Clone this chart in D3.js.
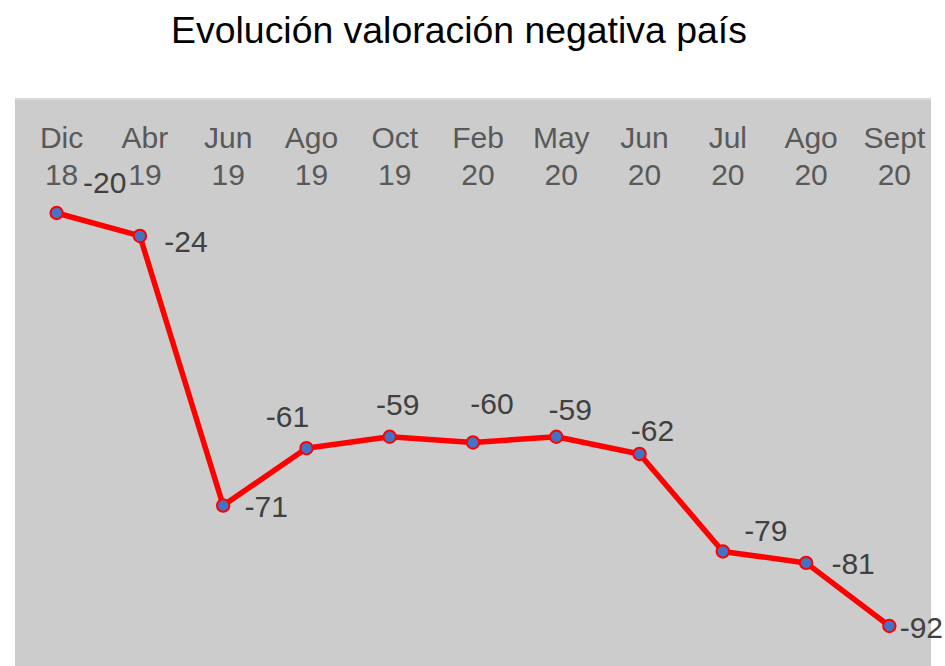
<!DOCTYPE html>
<html>
<head>
<meta charset="utf-8">
<script src="https://cdn.jsdelivr.net/npm/d3@7"></script>
<style>
  body { margin: 0; background: #ffffff; }
  text { font-family: "Liberation Sans", Arial, sans-serif; }
</style>
</head>
<body>
<script>
var months = ["Dic", "Abr", "Jun", "Ago", "Oct", "Feb", "May", "Jun", "Jul", "Ago", "Sept"];
var years = ["18", "19", "19", "19", "19", "20", "20", "20", "20", "20", "20"];
var values = [-20, -24, -71, -61, -59, -60, -59, -62, -79, -81, -92];

// manual data label placement (dx, dy from the marker), as in the original
var labelOffsets = [[48, -20], [46, 16], [43, 11], [-19, -21], [8, -22], [19, -28],
    [14, -17], [13, -13], [43, -10], [47, 11], [32, 12]];

var width = 945,
    height = 666,
    plot = { left: 15, right: 931, top: 98, bottom: 666 };

var svg = d3.select("body").append("svg")
    .attr("width", width)
    .attr("height", height);

svg.append("text")
    .attr("x", 459)
    .attr("y", 43)
    .attr("text-anchor", "middle")
    .style("font-size", "37.4px")
    .style("fill", "#000000")
    .text("Evolución valoración negativa país");

svg.append("rect")
    .attr("x", plot.left)
    .attr("y", plot.top)
    .attr("width", plot.right - plot.left)
    .attr("height", plot.bottom - plot.top)
    .attr("fill", "#cccccc");

svg.append("rect")
    .attr("x", plot.left)
    .attr("y", plot.top)
    .attr("width", plot.right - plot.left)
    .attr("height", 2)
    .attr("fill", "#d9d9d9");

var idx = d3.range(values.length);

var x = d3.scalePoint()
    .domain(idx)
    .range([plot.left, plot.right])
    .padding(0.5);

var y = d3.scaleLinear()
    .domain([0, -100])
    .range([98.3, 671.9]);

// category labels (top, two lines)
var cats = svg.selectAll(".cat")
    .data(idx)
    .enter().append("text")
    .attr("class", "cat")
    .attr("text-anchor", "middle")
    .style("font-size", "30px")
    .style("fill", "#595959");

cats.append("tspan")
    .attr("x", function (d) { return x(d) + 5; })
    .attr("y", 148)
    .text(function (d) { return months[d]; });

cats.append("tspan")
    .attr("x", function (d) { return x(d) + 5; })
    .attr("y", 185)
    .text(function (d) { return years[d]; });

var line = d3.line()
    .x(function (d) { return x(d); })
    .y(function (d) { return y(values[d]); });

svg.append("path")
    .datum(idx)
    .attr("d", line)
    .attr("fill", "none")
    .attr("stroke", "#ff0000")
    .attr("stroke-width", 5.5)
    .attr("stroke-linejoin", "round");

svg.selectAll(".dot")
    .data(idx)
    .enter().append("circle")
    .attr("class", "dot")
    .attr("cx", function (d) { return x(d); })
    .attr("cy", function (d) { return y(values[d]); })
    .attr("r", 6.2)
    .attr("fill", "#4472c4")
    .attr("stroke", "#ff0000")
    .attr("stroke-width", 2);

svg.selectAll(".lbl")
    .data(idx)
    .enter().append("text")
    .attr("class", "lbl")
    .attr("x", function (d) { return x(d) + labelOffsets[d][0]; })
    .attr("y", function (d) { return y(values[d]) + labelOffsets[d][1]; })
    .attr("text-anchor", "middle")
    .style("font-size", "30px")
    .style("fill", "#404040")
    .text(function (d) { return values[d]; });
</script>
</body>
</html>
